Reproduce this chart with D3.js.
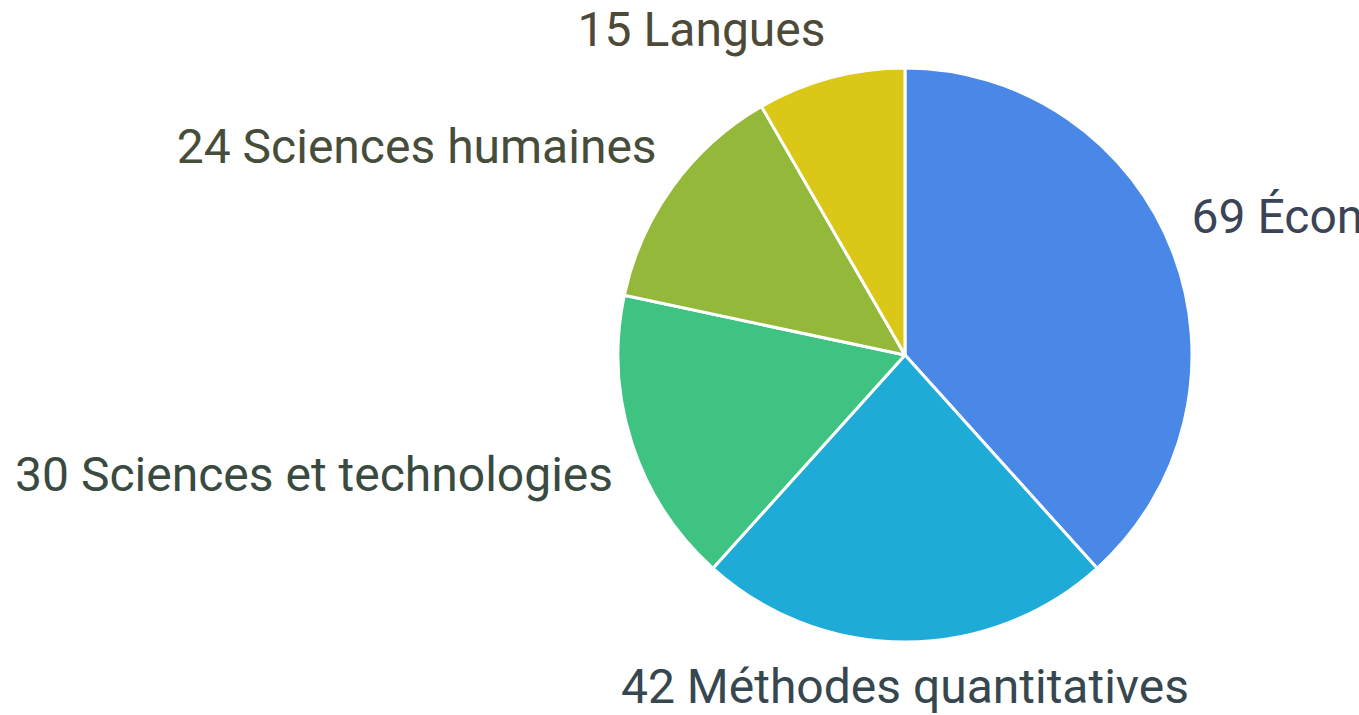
<!DOCTYPE html>
<html>
<head>
<meta charset="utf-8">
<script src="https://cdn.jsdelivr.net/npm/d3@7"></script>
<style>
  html, body { margin: 0; padding: 0; background: #fff; overflow: hidden; }
  svg { display: block; }
  text { font-family: Roboto, "Noto Sans", sans-serif; }
</style>
</head>
<body>
<svg id="chart"></svg>
<script>
// data
const categories = ["Économie", "Méthodes quantitatives", "Sciences et technologies", "Sciences humaines", "Langues"];
const values = [69, 42, 30, 24, 15];
const colors = ["#4a88e8", "#1fabd8", "#3ec383", "#93b83a", "#dbc718"];
const labelColors = ["#3a4456", "#37474f", "#394a40", "#464d3a", "#4d4a38"];

const width = 1359, height = 715;
const cx = 905, cy = 355, radius = 287;

const svg = d3.select("#chart")
  .attr("width", width)
  .attr("height", height);

const g = svg.append("g")
  .attr("transform", "translate(" + cx + "," + cy + ")");

const data = categories.map((c, i) => ({ name: c, value: values[i], color: colors[i], labelColor: labelColors[i] }));

const pie = d3.pie().sort(null).value(d => d.value);
const arc = d3.arc().innerRadius(0).outerRadius(radius);
const arcs = pie(data);

g.selectAll(".slice")
  .data(arcs)
  .enter().append("path")
  .attr("class", "slice")
  .attr("d", arc)
  .attr("fill", d => d.data.color)
  .attr("stroke", "#fff")
  .attr("stroke-width", 3)
  .attr("stroke-linejoin", "round");

// labels outside the pie
const labelR = radius + 20;
const mid = d => (d.startAngle + d.endAngle) / 2;
g.selectAll(".label")
  .data(arcs)
  .enter().append("text")
  .attr("class", "label")
  .attr("x", d => labelR * Math.sin(mid(d)) + (Math.sin(mid(d)) < -0.9 ? 0 : 0))
  .attr("y", d => -labelR * Math.cos(mid(d)) + (Math.cos(mid(d)) > 0 ? -12 : 41))
  .attr("text-anchor", d => {
    const s = Math.sin(mid(d));
    return Math.abs(s) < 0.05 ? "middle" : (s > 0 ? "start" : "end");
  })
  .attr("fill", d => d.data.labelColor)
  .style("font-size", "48px")
  .text(d => d.data.value + " " + d.data.name);
</script>
</body>
</html>
